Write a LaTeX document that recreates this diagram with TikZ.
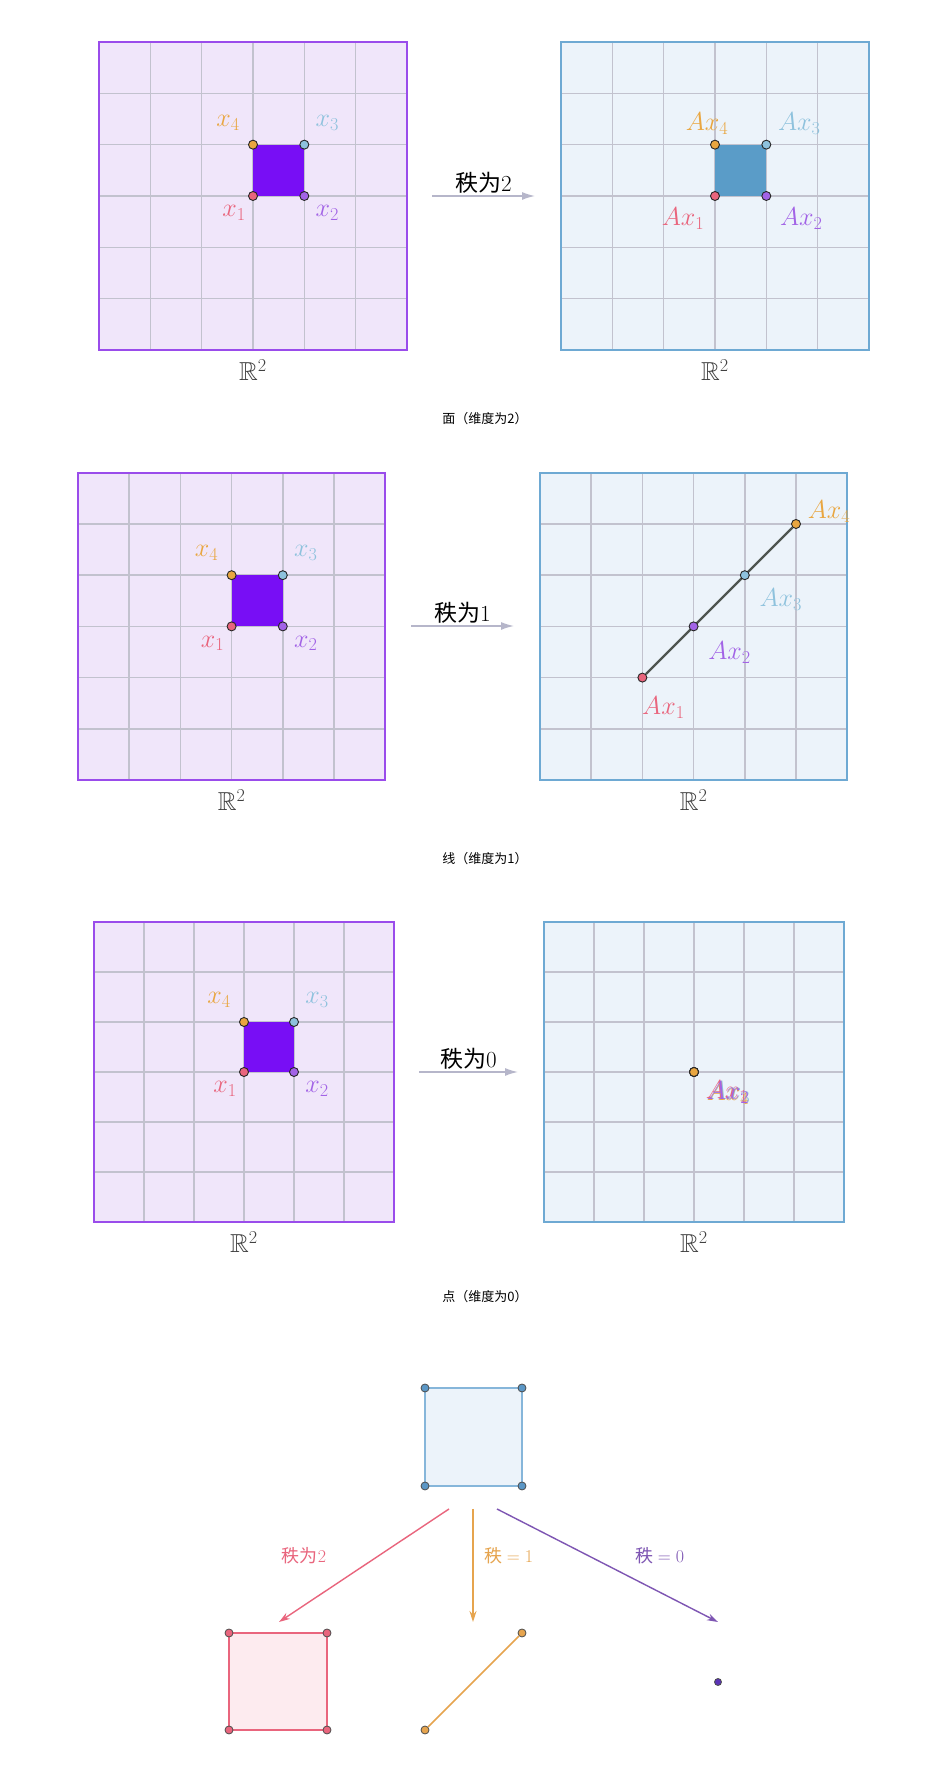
\documentclass[tikz,border=0pt]{standalone}
\usepackage{fix-cm}
\usepackage{amsmath,amssymb}
\usepackage{fontspec}
\newfontfamily\cjk{Noto Sans CJK SC}
\usetikzlibrary{arrows.meta,positioning,calc}

\definecolor{lavfill}{HTML}{F0E6FA}
\definecolor{lavedge}{HTML}{9A4CEB}
\definecolor{gridgray}{HTML}{C2C2CE}
\definecolor{sqviolet}{HTML}{780EF5}
\definecolor{skyfill}{HTML}{ECF3FA}
\definecolor{skyedge}{HTML}{6EA9D3}
\definecolor{sqblue}{HTML}{5A9CC8}
\definecolor{ptpink}{HTML}{E9657D}
\definecolor{ptpurple}{HTML}{A263E6}
\definecolor{ptblue}{HTML}{8EC2DD}
\definecolor{ptorange}{HTML}{E9A640}
\definecolor{mapgray}{HTML}{B6B6CA}
\definecolor{imgline}{HTML}{4F5550}
\definecolor{cornerblue}{HTML}{5B97C6}
\definecolor{sqedge}{HTML}{86B6DA}
\definecolor{pinkfill}{HTML}{FDEBEF}
\definecolor{rankorange}{HTML}{E6A44E}
\definecolor{rankpurple}{HTML}{7E56B3}
\definecolor{rankdot}{HTML}{5B34B8}

\tikzset{
  panel/.style={line width=2pt},
  gridline/.style={gridgray,line width=1.5pt},
  dot/.style={circle,draw=black!85,line width=0.9pt,inner sep=0pt,minimum size=9pt},
  smalldot/.style={circle,draw=black!70,line width=0.8pt,inner sep=0pt,minimum size=8pt},
  lbl/.style={font=\fontsize{26}{30}\selectfont},
  maparrow/.style={-{Latex[length=13pt,width=8pt]},mapgray,line width=1.5pt},
  maplbl/.style={font=\cjk\fontsize{23}{27}\selectfont,text=black,inner sep=2pt},
  ranklbl/.style={font=\cjk\fontsize{18}{22}\selectfont},
  rankarrow/.style={-{Stealth[length=11pt,width=7pt]},line width=1.4pt},
  caption/.style={font=\cjk\fontsize{13}{16}\selectfont},
}

\begin{document}
\begin{tikzpicture}[x=1pt,y=1pt,>=Latex]
  \fill[white] (0,0) rectangle (930,1780);
  \useasboundingbox (0,0) rectangle (930,1780);

  % the six planes
  \foreach \name/\px/\py/\cell/\bg/\edge in {pa/99/1430/51.33/lavfill/lavedge,qa/561/1430/51.33/skyfill/skyedge,pb/78/1000/51.2/lavfill/lavedge,qb/540/1000/51.2/skyfill/skyedge,pc/94/558/50/lavfill/lavedge,qc/544/558/50/skyfill/skyedge}
  {
    \begin{scope}[shift={(\px,\py)},x=\cell pt,y=\cell pt]
      \fill[\bg] (0,0) rectangle (6,6);
      \foreach \i in {1,...,5}
      {
        \draw[gridline] (\i,0) -- (\i,6);
        \draw[gridline] (0,\i) -- (6,\i);
      }
      \draw[panel,\edge] (0,0) rectangle (6,6);
      \coordinate (\name) at (3,0);
    \end{scope}
    \node[lbl,text=black!75] (R\name) at ($(\name)+(0,-20)$) {$\mathbb{R}^2$};
  }

  % unit square on the left
  \foreach \name/\px/\py/\cell in {a/99/1430/51.33,b/78/1000/51.2,c/94/558/50}
  {
    \begin{scope}[shift={(\px,\py)},x=\cell pt,y=\cell pt]
      \fill[sqviolet] (3,3) rectangle (4,4);
      \node[dot,fill=ptpink] (\name1) at (3,3) {};
      \node[dot,fill=ptpurple] (\name2) at (4,3) {};
      \node[dot,fill=ptblue] (\name3) at (4,4) {};
      \node[dot,fill=ptorange] (\name4) at (3,4) {};
    \end{scope}
    \node[lbl,text=ptpink] (\name1l) at ($(\name1)+(-19,-17)$) {$x_1$};
    \node[lbl,text=ptpurple] (\name2l) at ($(\name2)+(23,-17)$) {$x_2$};
    \node[lbl,text=ptblue] (\name3l) at ($(\name3)+(23,22)$) {$x_3$};
    \node[lbl,text=ptorange] (\name4l) at ($(\name4)+(-25,22)$) {$x_4$};
  }

  % rank 2
  \begin{scope}[shift={(561,1430)},x=51.33pt,y=51.33pt]
    \fill[sqblue] (3,3) rectangle (4,4);
    \node[dot,fill=ptpink] (d1) at (3,3) {};
    \node[dot,fill=ptpurple] (d2) at (4,3) {};
    \node[dot,fill=ptblue] (d3) at (4,4) {};
    \node[dot,fill=ptorange] (d4) at (3,4) {};
  \end{scope}
  \node[lbl,text=ptpink] (d1l) at ($(d1)+(-32,-23)$) {$Ax_1$};
  \node[lbl,text=ptpurple] (d2l) at ($(d2)+(35,-23)$) {$Ax_2$};
  \node[lbl,text=ptblue] (d3l) at ($(d3)+(33,21)$) {$Ax_3$};
  \node[lbl,text=ptorange] (d4l) at ($(d4)+(-8,21)$) {$Ax_4$};

  % rank 1
  \begin{scope}[shift={(540,1000)},x=51.2pt,y=51.2pt]
    \node[dot,fill=ptpink] (e1) at (2,2) {};
    \node[dot,fill=ptorange] (e4) at (5,5) {};
    \draw[imgline,line width=2.2pt] (e1) -- (e4);
    \node[dot,fill=ptpurple] (e2) at (3,3) {};
    \node[dot,fill=ptblue] (e3) at (4,4) {};
  \end{scope}
  \node[lbl,text=ptpink] (e1l) at ($(e1)+(21,-30)$) {$Ax_1$};
  \node[lbl,text=ptpurple] (e2l) at ($(e2)+(36,-26)$) {$Ax_2$};
  \node[lbl,text=ptblue] (e3l) at ($(e3)+(36,-24)$) {$Ax_3$};
  \node[lbl,text=ptorange] (e4l) at ($(e4)+(33,12)$) {$Ax_4$};

  % rank 0
  \begin{scope}[shift={(544,558)},x=50pt,y=50pt]
    \node[dot,fill=ptpink] (f1) at (3,3) {};
    \node[dot,fill=ptpurple] (f2) at (3,3) {};
    \node[dot,fill=ptblue] (f3) at (3,3) {};
    \node[dot,fill=ptorange] (f4) at (3,3) {};
  \end{scope}
  \node[lbl,text=ptpink] (f1l) at ($(f1)+(33,-20)$) {$Ax_1$};
  \node[lbl,text=ptblue] (f3l) at ($(f3)+(35,-21)$) {$Ax_3$};
  \node[lbl,text=ptorange] (f4l) at ($(f4)+(34,-22)$) {$Ax_4$};
  \node[lbl,text=ptpurple] (f2l) at ($(f2)+(34,-21)$) {$Ax_2$};

  % maps
  \coordinate (m2a) at (432,1584);
  \coordinate (m2b) at (535,1584);
  \draw[maparrow] (m2a) -- node[maplbl,above] (m2t) {秩为$2$} (m2b);
  \coordinate (m1a) at (411,1154);
  \coordinate (m1b) at (514,1154);
  \draw[maparrow] (m1a) -- node[maplbl,above] (m1t) {秩为$1$} (m1b);
  \coordinate (m0a) at (419,708);
  \coordinate (m0b) at (518,708);
  \draw[maparrow] (m0a) -- node[maplbl,above] (m0t) {秩为$0$} (m0b);

  \node[caption] (cap2) at (485,1361) {面（维度为2）};
  \node[caption] (cap1) at (485,921) {线（维度为1）};
  \node[caption] (cap0) at (485,483) {点（维度为0）};

  % overview
  \filldraw[fill=skyfill,draw=sqedge,line width=2pt] (425,294) rectangle (522,392);
  \foreach \n/\x/\y in {s1/425/294,s2/522/294,s3/522/392,s4/425/392}
    \node[smalldot,fill=cornerblue] (\n) at (\x,\y) {};

  \coordinate (bs2) at (449,271);
  \coordinate (bt2) at (279,158);
  \coordinate (bs1) at (473,271);
  \coordinate (bt1) at (473,158);
  \coordinate (bs0) at (497,271);
  \coordinate (bt0) at (718,158);
  \draw[rankarrow,ptpink] (bs2) -- (bt2);
  \draw[rankarrow,rankorange] (bs1) -- (bt1);
  \draw[rankarrow,rankpurple] (bs0) -- (bt0);
  \node[ranklbl,text=ptpink] (r2) at (304,224) {秩为$2$};
  \node[ranklbl,text=rankorange] (r1) at (509,224) {秩 $=1$};
  \node[ranklbl,text=rankpurple] (r0) at (660,224) {秩 $=0$};

  \filldraw[fill=pinkfill,draw=ptpink,line width=1.5pt] (229,50) rectangle (327,147);
  \foreach \n/\x/\y in {k1/229/50,k2/327/50,k3/327/147,k4/229/147}
    \node[smalldot,fill=ptpink] (\n) at (\x,\y) {};

  \node[smalldot,fill=rankorange] (o1) at (425,50) {};
  \node[smalldot,fill=rankorange] (o2) at (522,147) {};
  \draw[rankorange,line width=1.5pt] (o1) -- (o2);

  \node[smalldot,fill=rankdot,minimum size=7pt] (z0) at (718,98) {};
\end{tikzpicture}
\end{document}
